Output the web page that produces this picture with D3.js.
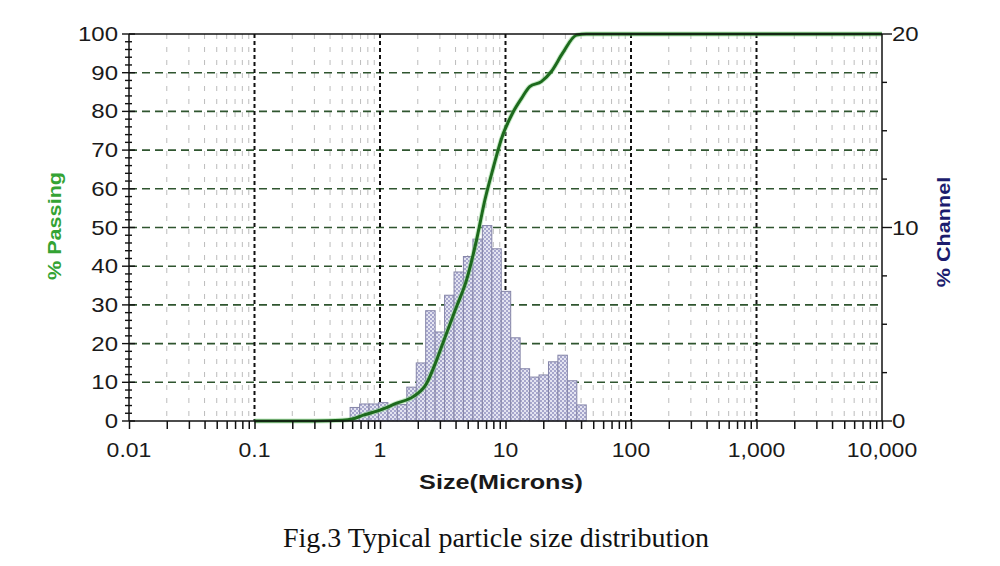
<!DOCTYPE html>
<html>
<head>
<meta charset="utf-8">
<script src="https://cdn.jsdelivr.net/npm/d3@7"></script>
<style>
  html, body { margin: 0; padding: 0; background: #fff; }
  svg { display: block; }
</style>
</head>
<body>
<svg id="chart" width="1000" height="566"></svg>
<script>
// ---------------- data ----------------
const sizeTicks = [0.01, 0.1, 1, 10, 100, 1000, 10000];
const sizeTickLabels = ["0.01", "0.1", "1", "10", "100", "1,000", "10,000"];
const passingTicks = [0, 10, 20, 30, 40, 50, 60, 70, 80, 90, 100];
const passingTickLabels = ["0", "10", "20", "30", "40", "50", "60", "70", "80", "90", "100"];
const channelTicks = [0, 10, 20];
const channelTickLabels = ["0", "10", "20"];

// histogram channel edges (microns) and % channel values
const binEdges = [0.578, 0.688, 0.818, 0.972, 1.156, 1.375, 1.635, 1.945, 2.312, 2.75,
                  3.27, 3.89, 4.62, 5.5, 6.54, 7.78, 9.25, 11, 13.08, 15.56,
                  18.5, 22, 26.16, 31.11, 37, 44];
const channelValues = [0.7, 0.88, 0.88, 0.95, 0.8, 0.85, 1.75, 3.0, 5.7, 4.6,
                       6.5, 7.7, 8.5, 9.4, 10.1, 8.9, 6.7, 4.3, 2.7, 2.27,
                       2.38, 3.06, 3.4, 2.08, 0.83];

// cumulative % passing curve
const curveSizes = [0.1, 0.3, 0.5, 0.6, 0.736, 1.0, 1.36, 1.84, 2.35, 2.83, 3.39, 4.07,
                    4.89, 5.88, 6.85, 8.0, 9.3, 11.4, 13.5, 15.6, 19.3, 23.2, 28.6, 36.7, 44, 10000];
const curvePassing = [0, 0, 0.2, 0.5, 1.5, 2.8, 4.6, 6.3, 9.7, 15.8, 22.7, 29.5,
                      36.4, 46.8, 57.1, 65.5, 73, 79.6, 83.5, 86.4, 87.7, 90.3, 95.1, 99.7, 100, 100];

// ---------------- layout ----------------
const L = 129, R = 882, T = 34, B = 421;
const svg = d3.select("#chart");
svg.append("rect").attr("width", 1000).attr("height", 566).attr("fill", "#fff");

const x = d3.scaleLog().domain([0.01, 10000]).range([L, R]);
const yL = d3.scaleLinear().domain([0, 100]).range([B, T]);
const yR = d3.scaleLinear().domain([0, 20]).range([B, T]);

const defs = svg.append("defs");
const pat = defs.append("pattern").attr("id", "chk").attr("width", 4).attr("height", 4)
  .attr("patternUnits", "userSpaceOnUse");
pat.append("rect").attr("width", 4).attr("height", 4).attr("fill", "#e4e4f1");
pat.append("rect").attr("width", 2).attr("height", 2).attr("fill", "#a6a6cc");
pat.append("rect").attr("x", 2).attr("y", 2).attr("width", 2).attr("height", 2).attr("fill", "#a6a6cc");

// minor decade positions
const minorX = [];
for (let i = 0; i < sizeTicks.length - 1; i++) {
  for (let k = 2; k <= 9; k++) minorX.push(sizeTicks[i] * k);
}

const grid = svg.append("g");
// minor vertical grid
grid.selectAll(".mv").data(minorX).join("line")
  .attr("x1", d => x(d)).attr("x2", d => x(d)).attr("y1", T).attr("y2", B)
  .attr("stroke", "#bcbcbc").attr("stroke-width", 1).attr("stroke-dasharray", "5,8");
// horizontal grid
grid.selectAll(".hg").data(passingTicks.slice(1, -1)).join("line")
  .attr("x1", L).attr("x2", R).attr("y1", d => yL(d)).attr("y2", d => yL(d))
  .attr("stroke", "#2f552f").attr("stroke-width", 1.6).attr("stroke-dasharray", "8,5");
// major vertical grid
grid.selectAll(".vg").data(sizeTicks.slice(1, -1)).join("line")
  .attr("x1", d => x(d)).attr("x2", d => x(d)).attr("y1", T).attr("y2", B)
  .attr("stroke", "#111").attr("stroke-width", 2).attr("stroke-dasharray", "4,3");

// histogram bars
const bars = channelValues.map((v, i) => ({ x0: binEdges[i], x1: binEdges[i + 1], v }));
svg.append("g").selectAll("rect").data(bars).join("rect")
  .attr("x", d => x(d.x0)).attr("width", d => x(d.x1) - x(d.x0))
  .attr("y", d => yR(d.v)).attr("height", d => yR(0) - yR(d.v))
  .attr("fill", "url(#chk)").attr("stroke", "#8585a8").attr("stroke-width", 1);

// cumulative curve
const pts = curveSizes.map((s, i) => [s, curvePassing[i]]);
const line = d3.line().x(d => x(d[0])).y(d => yL(d[1])).curve(d3.curveMonotoneX);
svg.append("path").attr("d", line(pts)).attr("fill", "none")
  .attr("stroke", "#8fd68f").attr("stroke-width", 5).attr("stroke-opacity", 0.5);
svg.append("path").attr("d", line(pts)).attr("fill", "none")
  .attr("stroke", "#1d6a1d").attr("stroke-width", 3).attr("stroke-linejoin", "round");

// frame
const frame = svg.append("g").attr("stroke", "#111").attr("stroke-width", 1.5);
frame.append("line").attr("x1", L).attr("x2", R).attr("y1", B).attr("y2", B);
frame.append("line").attr("x1", L).attr("x2", R).attr("y1", T).attr("y2", T);
frame.append("line").attr("x1", L).attr("x2", L).attr("y1", T).attr("y2", B);
frame.append("line").attr("x1", R).attr("x2", R).attr("y1", T).attr("y2", B);

// bottom ticks (d3 axis)
const xAxis = svg.append("g").attr("transform", `translate(0,${B})`)
  .call(d3.axisBottom(x).tickValues(sizeTicks.concat(minorX)).tickSize(8).tickFormat(""));
xAxis.select(".domain").remove();
xAxis.selectAll("line").attr("stroke", "#111").attr("stroke-width", 1.5);

// left ticks
const leftMinor = d3.range(0, 101, 2);
svg.append("g").selectAll("line").data(leftMinor).join("line")
  .attr("x1", d => L - (d % 10 === 0 ? 7 : 4)).attr("x2", d => L + (d % 10 === 0 ? 6 : 3))
  .attr("y1", d => yL(d)).attr("y2", d => yL(d))
  .attr("stroke", "#111").attr("stroke-width", 1.4);

// right ticks
const rightMinor = d3.range(0, 20.01, 2.5);
svg.append("g").selectAll("line").data(rightMinor).join("line")
  .attr("x1", R).attr("x2", d => R + (d % 10 === 0 ? 10 : 5))
  .attr("y1", d => yR(d)).attr("y2", d => yR(d))
  .attr("stroke", "#111").attr("stroke-width", 1.4);

// text helper with horizontal stretch
function stext(g, tx, ty, str, anchor, size, weight, color, sx, rot) {
  return g.append("text")
    .attr("transform", `translate(${tx},${ty})` + (rot ? ` rotate(${rot})` : "") + ` scale(${sx},1)`)
    .attr("text-anchor", anchor)
    .attr("font-family", "'Liberation Sans', Arial, sans-serif")
    .attr("font-size", size).attr("font-weight", weight).attr("fill", color)
    .text(str);
}
const labels = svg.append("g");
passingTicks.forEach((v, i) => {
  stext(labels, 118, yL(v) + 7, passingTickLabels[i], "end", 20, "normal", "#1a1a1a", 1.2);
});
channelTicks.forEach((v, i) => {
  stext(labels, 892, yR(v) + 7, channelTickLabels[i], "start", 20, "normal", "#1a1a1a", 1.2);
});
sizeTicks.forEach((v, i) => {
  stext(labels, x(v), 457, sizeTickLabels[i], "middle", 20, "normal", "#1a1a1a", 1.15);
});
stext(labels, 501, 489, "Size(Microns)", "middle", 21, "bold", "#1a1a1a", 1.2);
stext(labels, 61, 226, "% Passing", "middle", 18, "bold", "#34a334", 1.2, -90);
stext(labels, 950, 232, "% Channel", "middle", 18, "bold", "#1c1c6e", 1.2, -90);

svg.append("text").attr("x", 496).attr("y", 547).attr("text-anchor", "middle")
  .attr("font-family", "'Liberation Serif', 'Times New Roman', serif")
  .attr("font-size", 28).attr("fill", "#111")
  .text("Fig.3 Typical particle size distribution");
</script>
</body>
</html>
